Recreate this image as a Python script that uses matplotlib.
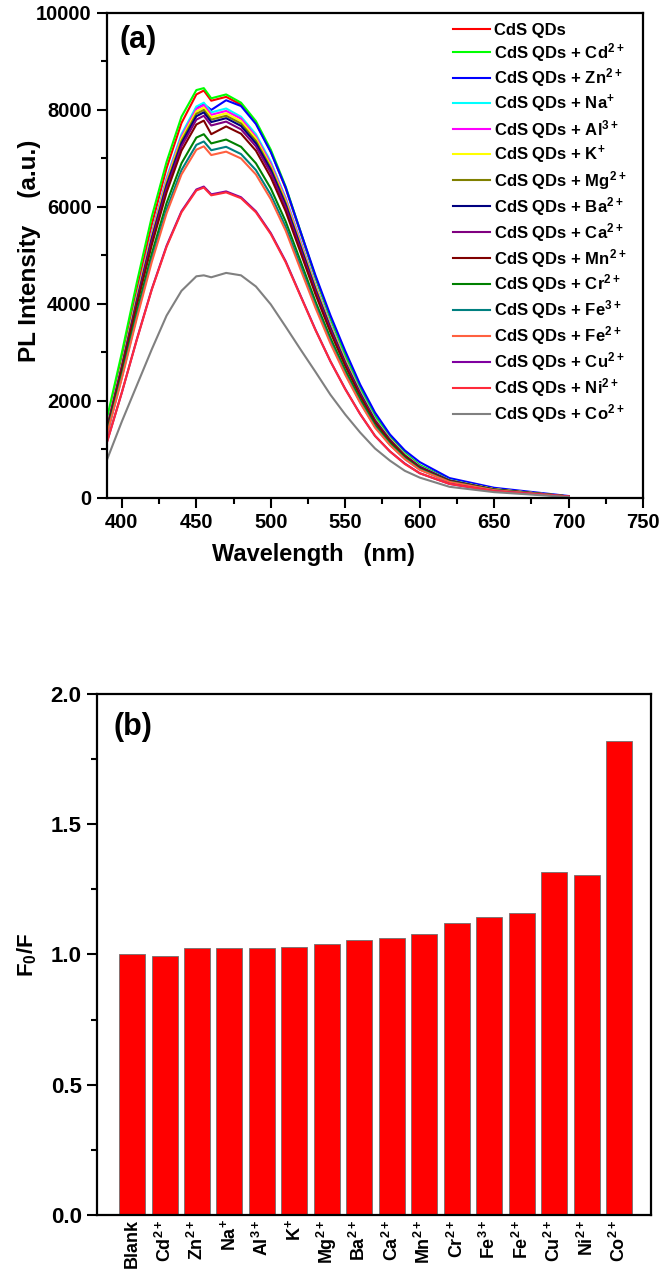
import matplotlib
matplotlib.use("Agg")
import matplotlib.pyplot as plt
from matplotlib.ticker import MultipleLocator, FormatStrFormatter

plt.rcParams['font.family'] = ['Liberation Sans', 'DejaVu Sans']
plt.rcParams['font.weight'] = 'bold'
plt.rcParams['mathtext.fontset'] = 'custom'
plt.rcParams['mathtext.rm'] = 'Liberation Sans:bold'
plt.rcParams['mathtext.bf'] = 'Liberation Sans:bold'
plt.rcParams['mathtext.default'] = 'bf'

# ---- panel (a): PL spectra ----
wl = [390, 400, 410, 420, 430, 440, 450, 455, 460, 470, 480, 490, 500,
      510, 520, 530, 540, 550, 560, 570, 580, 590, 600, 620, 650, 700]

pl_cds = [1510, 2860, 4280, 5630, 6800, 7730, 8320, 8400, 8190, 8270, 8110, 7730, 7140,
          6380, 5460, 4540, 3700, 2940, 2270, 1680, 1260, 920, 670, 380, 180, 30]
pl_cd = [1650, 3000, 4440, 5790, 6930, 7860, 8410, 8450, 8240, 8320, 8150, 7770, 7180,
         6420, 5490, 4560, 3720, 2960, 2280, 1690, 1270, 930, 680, 380, 190, 30]
pl_zn = [1440, 2710, 4100, 5410, 6560, 7460, 8040, 8120, 8000, 8200, 8080, 7710, 7130,
         6400, 5490, 4590, 3770, 3030, 2340, 1760, 1310, 980, 740, 410, 210, 40]
pl_na = [1470, 2770, 4160, 5460, 6600, 7500, 8070, 8150, 7950, 8030, 7860, 7500, 6930,
         6190, 5300, 4400, 3590, 2850, 2200, 1630, 1220, 900, 650, 370, 180, 30]
pl_al = [1460, 2750, 4130, 5430, 6560, 7450, 8020, 8100, 7900, 7980, 7820, 7450, 6890,
         6160, 5270, 4370, 3560, 2840, 2190, 1620, 1220, 890, 650, 360, 180, 30]
pl_k = [1450, 2740, 4110, 5390, 6520, 7410, 7970, 8050, 7850, 7930, 7770, 7410, 6840,
        6120, 5230, 4350, 3540, 2820, 2170, 1610, 1210, 890, 640, 360, 180, 30]
pl_mg = [1440, 2720, 4080, 5360, 6480, 7360, 7920, 8000, 7800, 7880, 7720, 7360, 6800,
         6080, 5200, 4320, 3520, 2800, 2160, 1600, 1200, 880, 640, 360, 180, 30]
pl_ba = [1430, 2700, 4050, 5330, 6440, 7310, 7870, 7950, 7750, 7830, 7670, 7310, 6760,
         6040, 5170, 4290, 3500, 2780, 2150, 1590, 1190, 870, 640, 360, 170, 30]
pl_ca = [1420, 2680, 4020, 5280, 6380, 7250, 7800, 7880, 7680, 7760, 7600, 7250, 6700,
         5990, 5120, 4260, 3470, 2760, 2130, 1580, 1180, 870, 630, 350, 170, 30]
pl_mn = [1400, 2650, 3970, 5210, 6300, 7160, 7700, 7780, 7500, 7660, 7510, 7160, 6610,
         5910, 5060, 4200, 3420, 2720, 2100, 1560, 1170, 860, 620, 350, 170, 30]
pl_cr = [1350, 2550, 3830, 5030, 6080, 6900, 7430, 7500, 7310, 7390, 7240, 6900, 6380,
         5700, 4880, 4050, 3300, 2630, 2030, 1500, 1130, 830, 600, 340, 170, 30]
pl_fe3 = [1320, 2500, 3750, 4920, 5950, 6760, 7280, 7350, 7170, 7240, 7090, 6760, 6250,
          5590, 4780, 3970, 3230, 2570, 1980, 1470, 1100, 810, 590, 330, 160, 30]
pl_fe2 = [1310, 2470, 3700, 4860, 5870, 6670, 7180, 7250, 7070, 7140, 7000, 6670, 6160,
          5510, 4710, 3920, 3190, 2540, 1960, 1450, 1090, 800, 580, 330, 160, 30]
pl_cu = [1160, 2180, 3270, 4300, 5200, 5910, 6360, 6420, 6260, 6320, 6200, 5910, 5460,
         4880, 4170, 3470, 2820, 2250, 1730, 1280, 960, 710, 510, 290, 140, 30]
pl_ni = [1150, 2180, 3260, 4290, 5180, 5890, 6340, 6400, 6240, 6300, 6180, 5890, 5440,
         4860, 4160, 3460, 2820, 2240, 1730, 1280, 960, 700, 510, 290, 140, 30]
pl_co = [790, 1580, 2320, 3060, 3760, 4270, 4570, 4590, 4550, 4640, 4590, 4360, 3990,
         3530, 3060, 2600, 2130, 1720, 1350, 1020, 770, 560, 420, 230, 120, 20]

spectra = [pl_cds, pl_cd, pl_zn, pl_na, pl_al, pl_k, pl_mg, pl_ba, pl_ca,
           pl_mn, pl_cr, pl_fe3, pl_fe2, pl_cu, pl_ni, pl_co]
legend_labels = ['CdS QDs', 'CdS QDs + Cd$^{2+}$', 'CdS QDs + Zn$^{2+}$', 'CdS QDs + Na$^{+}$',
                 'CdS QDs + Al$^{3+}$', 'CdS QDs + K$^{+}$', 'CdS QDs + Mg$^{2+}$',
                 'CdS QDs + Ba$^{2+}$', 'CdS QDs + Ca$^{2+}$', 'CdS QDs + Mn$^{2+}$',
                 'CdS QDs + Cr$^{2+}$', 'CdS QDs + Fe$^{3+}$', 'CdS QDs + Fe$^{2+}$',
                 'CdS QDs + Cu$^{2+}$', 'CdS QDs + Ni$^{2+}$', 'CdS QDs + Co$^{2+}$']
line_colors = ['#ff0000', '#00ff00', '#0000ff', '#00ffff', '#ff00ff', '#ffff00', '#808000',
               '#000080', '#800080', '#800000', '#008000', '#008080', '#ff6040',
               '#8000a0', '#ff2a3a', '#808080']

# ---- panel (b): F0/F ----
ions = ['Blank', 'Cd$^{2+}$', 'Zn$^{2+}$', 'Na$^{+}$', 'Al$^{3+}$', 'K$^{+}$', 'Mg$^{2+}$',
        'Ba$^{2+}$', 'Ca$^{2+}$', 'Mn$^{2+}$', 'Cr$^{2+}$', 'Fe$^{3+}$', 'Fe$^{2+}$',
        'Cu$^{2+}$', 'Ni$^{2+}$', 'Co$^{2+}$']
ratio = [1.0, 0.995, 1.025, 1.025, 1.025, 1.03, 1.04, 1.055, 1.065, 1.08, 1.12, 1.145,
         1.16, 1.315, 1.305, 1.82]

fig = plt.figure(figsize=(6.66, 12.69), dpi=100)
ax1 = fig.add_axes([0.1607, 0.6076, 0.8048, 0.3822])
ax2 = fig.add_axes([0.1456, 0.0426, 0.8319, 0.4105])

for y, lab, c in zip(spectra, legend_labels, line_colors):
    ax1.plot(wl, y, color=c, lw=1.5, label=lab)
ax1.set_xlim(390, 750)
ax1.set_ylim(0, 10000)
ax1.xaxis.set_major_locator(MultipleLocator(50))
ax1.xaxis.set_minor_locator(MultipleLocator(25))
ax1.yaxis.set_major_locator(MultipleLocator(2000))
ax1.yaxis.set_minor_locator(MultipleLocator(1000))
ax1.set_xlabel('Wavelength   (nm)', fontsize=17, fontweight='bold')
ax1.xaxis.set_label_coords(0.386, -0.093)
ax1.set_ylabel('PL Intensity    (a.u.)', fontsize=17.5, fontweight='bold')
ax1.yaxis.set_label_coords(-0.123, 0.51)
ax1.text(0.024, 0.975, '(a)', transform=ax1.transAxes, fontsize=22, fontweight='bold', va='top')
ax1.legend(loc='upper left', bbox_to_anchor=(0.6455, 0.98), frameon=False, fontsize=12,
           handlelength=2.2, handletextpad=0.25, labelspacing=0.18,
           borderpad=0, borderaxespad=0)

ax2.bar(range(len(ions)), ratio, width=0.8, color='#ff0000', edgecolor='#707070', linewidth=0.6)
ax2.set_xlim(-1.08, 15.98)
ax2.set_ylim(0, 2.0)
ax2.yaxis.set_major_locator(MultipleLocator(0.5))
ax2.yaxis.set_minor_locator(MultipleLocator(0.25))
ax2.yaxis.set_major_formatter(FormatStrFormatter('%.1f'))
ax2.set_xticks(range(len(ions)))
ax2.set_xticklabels(ions, rotation=90, fontweight='bold')
ax2.set_ylabel('F$_0$/F', fontsize=16, fontweight='bold')
ax2.yaxis.set_label_coords(-0.105, 0.5)
ax2.text(0.029, 0.965, '(b)', transform=ax2.transAxes, fontsize=22, fontweight='bold', va='top')

for ax, ls in ((ax1, 14.5), (ax2, 16)):
    for s in ax.spines.values():
        s.set_linewidth(1.6)
    ax.tick_params(which='major', direction='out', length=7.5, width=1.5, labelsize=ls)
    ax.tick_params(which='minor', direction='out', length=4.5, width=1.5)
    for t in ax.get_yticklabels() + ax.get_xticklabels():
        t.set_fontweight('bold')
ax2.tick_params(axis='x', which='both', length=0, pad=3, labelsize=13)

fig.savefig('out.png', dpi=100)
